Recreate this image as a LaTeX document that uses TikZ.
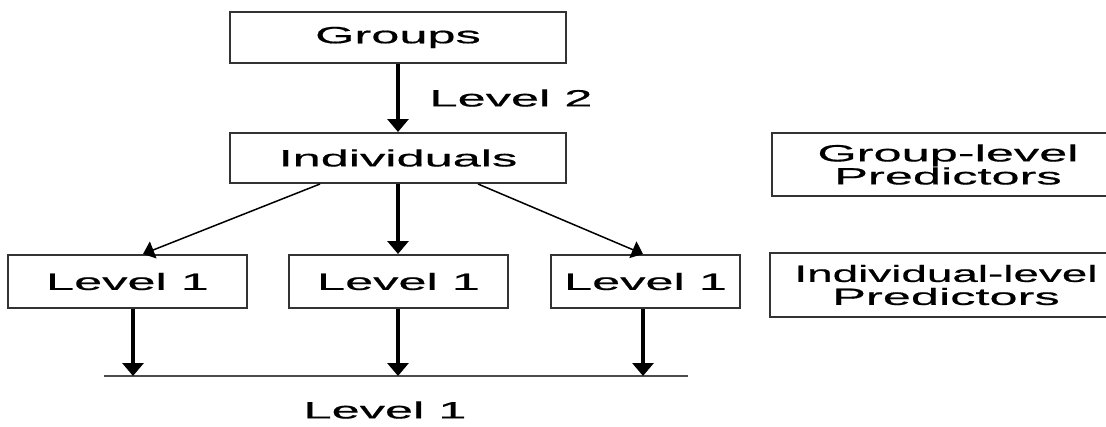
\documentclass[tikz,border=0pt]{standalone}
\usepackage{fontspec}
\setmainfont[FakeStretch=2.15,FakeBold=0.6]{Liberation Sans}
\newfontfamily\narrowfont[FakeStretch=1.95,FakeBold=0.6]{Liberation Sans}
\usetikzlibrary{arrows.meta,calc}
\tikzset{
  box/.style={draw=black!80, line width=2pt, minimum height=51pt, inner sep=0pt, align=center},
  down/.style={-{Triangle[width=21pt,length=13pt]}, line width=3.2pt},
  slant/.style={-{Triangle[width=18pt,length=11pt]}, line width=1.5pt},
  every node/.style={font=\fontsize{23.5}{23}\selectfont}
}
\begin{document}
\begin{tikzpicture}[x=1pt,y=-1pt]
\clip (0,0) rectangle (1106,426);
% top of the tree
\node[box, minimum width=336pt] (groups) at (398,37.5) {Groups};
\node[box, minimum width=336pt, minimum height=50pt] (indiv) at (398,158) {Individuals};
\node (lvtwo) at (511,98) {Level 2};
% predictors on the right
\node[box, minimum width=352pt, minimum height=63pt] (grppred) at (948,164.5) {Group-level\\Predictors};
\node[box, minimum width=352pt, minimum height=64pt] (indpred) at (946,285) {{\narrowfont Individual-level}\\Predictors};
% level 1 row
\node[box, minimum width=239pt, minimum height=53pt] (lva) at (127.5,281.5) {Level 1};
\node[box, minimum width=219pt, minimum height=53pt] (lvb) at (398.5,281.5) {Level 1};
\node[box, minimum width=189pt, minimum height=53pt] (lvc) at (645.5,281.5) {Level 1};
\node (lvone) at (385,410) {Level 1};
% base line
\coordinate (left) at (104,376);
\coordinate (right) at (688,376);
\coordinate (hita) at (133,376);
\coordinate (hitb) at (398,376);
\coordinate (hitc) at (643,376);
\draw[line width=2pt, black!70] (left) -- (right);
% connectors
\draw[down] (groups) -- (indiv);
\draw[slant] ($(indiv.south)+(-78,0)$) -- ($(lva.north)+(15.5,0)$);
\draw[down] (indiv.south) -- (indiv.south |- lvb.north);
\draw[slant] ($(indiv.south)+(80,0)$) -- ($(lvc.north)+(-2.5,0)$);
\draw[down] (lva.south -| hita) -- (hita);
\draw[down] (lvb.south -| hitb) -- (hitb);
\draw[down] (lvc.south -| hitc) -- (hitc);
\end{tikzpicture}
\end{document}
